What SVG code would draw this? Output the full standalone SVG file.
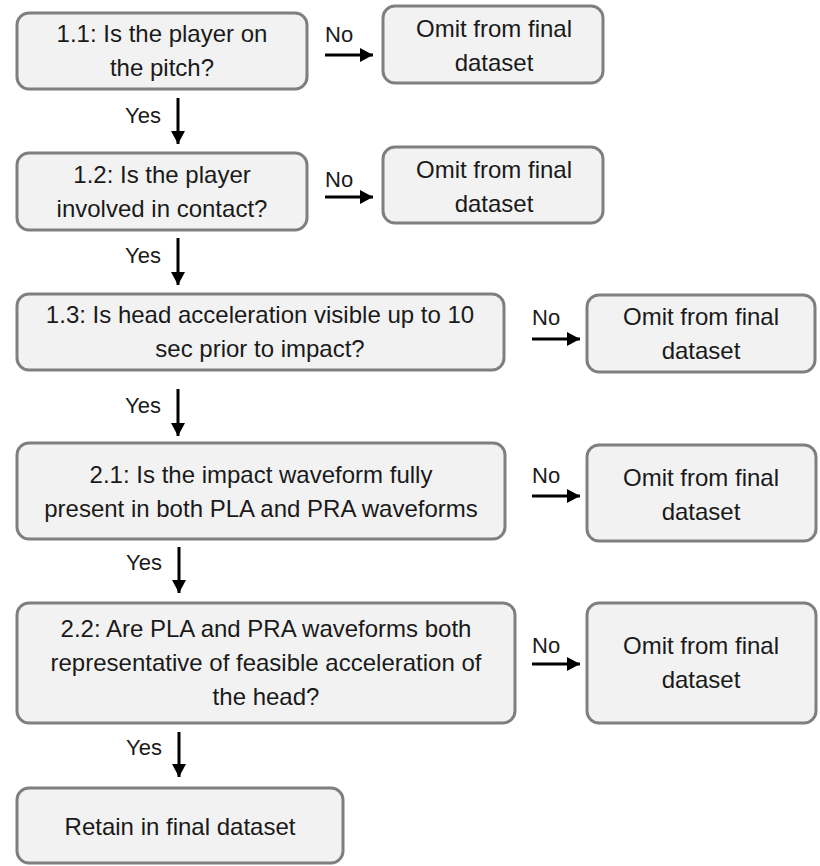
<svg xmlns="http://www.w3.org/2000/svg" width="820" height="866" viewBox="0 0 820 866">
<style>
.box{fill:#f2f2f2;stroke:#7f7f7f;stroke-width:3}
.t{font-family:"Liberation Sans",Arial,sans-serif;font-size:24px;fill:#1a1a1a;text-anchor:middle}
.l{font-family:"Liberation Sans",Arial,sans-serif;font-size:22px;fill:#1a1a1a}
.a{stroke:#000;stroke-width:3;fill:none;marker-end:url(#ah)}
</style>
<defs>
<marker id="ah" viewBox="0 0 13 14" refX="13" refY="7" markerWidth="13" markerHeight="14" markerUnits="userSpaceOnUse" orient="auto">
<path d="M0,0 L13,7 L0,14 z" fill="#000"/>
</marker>
</defs>
<rect width="820" height="866" fill="#fff"/>

<g id="q11"><rect class="box" x="17" y="13" width="290" height="76" rx="12"/>
<text class="t" x="162" y="42">1.1: Is the player on</text><text class="t" x="162" y="76">the pitch?</text></g>
<g id="omit1"><rect class="box" x="383" y="6" width="220" height="77" rx="12"/>
<text class="t" x="494" y="37">Omit from final</text><text class="t" x="494" y="71">dataset</text></g>

<g id="q12"><rect class="box" x="17" y="153" width="290" height="77" rx="12"/>
<text class="t" x="162" y="183">1.2: Is the player</text><text class="t" x="162" y="217">involved in contact?</text></g>
<g id="omit2"><rect class="box" x="383" y="147" width="220" height="76" rx="12"/>
<text class="t" x="494" y="178">Omit from final</text><text class="t" x="494" y="212">dataset</text></g>

<g id="q13"><rect class="box" x="17" y="294" width="487" height="76" rx="12"/>
<text class="t" x="260" y="323">1.3: Is head acceleration visible up to 10</text><text class="t" x="260" y="357">sec prior to impact?</text></g>
<g id="omit3"><rect class="box" x="587" y="295" width="228" height="77" rx="12"/>
<text class="t" x="701" y="325">Omit from final</text><text class="t" x="701" y="359">dataset</text></g>

<g id="q21"><rect class="box" x="17" y="443" width="488" height="96" rx="12"/>
<text class="t" x="261" y="483">2.1: Is the impact waveform fully</text><text class="t" x="261" y="517">present in both PLA and PRA waveforms</text></g>
<g id="omit4"><rect class="box" x="587" y="445" width="229" height="96" rx="12"/>
<text class="t" x="701" y="486">Omit from final</text><text class="t" x="701" y="520">dataset</text></g>

<g id="q22"><rect class="box" x="17" y="603" width="498" height="120" rx="12"/>
<text class="t" x="266" y="637">2.2: Are PLA and PRA waveforms both</text><text class="t" x="266" y="671">representative of feasible acceleration of</text><text class="t" x="266" y="705">the head?</text></g>
<g id="omit5"><rect class="box" x="587" y="603" width="229" height="120" rx="12"/>
<text class="t" x="701" y="654">Omit from final</text><text class="t" x="701" y="688">dataset</text></g>

<g id="retain"><rect class="box" x="17" y="788" width="326" height="75" rx="12"/>
<text class="t" x="180" y="835">Retain in final dataset</text></g>

<g id="connectors">
<line class="a" x1="325" y1="55" x2="373" y2="55"/>
<text class="l" x="325" y="42">No</text>
<line class="a" x1="325" y1="197" x2="373" y2="197"/>
<text class="l" x="325" y="187">No</text>
<line class="a" x1="532" y1="339" x2="580" y2="339"/>
<text class="l" x="532" y="325">No</text>
<line class="a" x1="532" y1="496" x2="580" y2="496"/>
<text class="l" x="532" y="483">No</text>
<line class="a" x1="532" y1="664" x2="580" y2="664"/>
<text class="l" x="532" y="653">No</text>

<line class="a" x1="178" y1="98" x2="178" y2="144"/>
<text class="l" x="125" y="123">Yes</text>
<line class="a" x1="178" y1="238" x2="178" y2="285"/>
<text class="l" x="125" y="263">Yes</text>
<line class="a" x1="178" y1="389" x2="178" y2="436"/>
<text class="l" x="125" y="413">Yes</text>
<line class="a" x1="179" y1="547" x2="179" y2="593"/>
<text class="l" x="126" y="570">Yes</text>
<line class="a" x1="179" y1="732" x2="179" y2="777"/>
<text class="l" x="126" y="755">Yes</text>
</g>
</svg>
